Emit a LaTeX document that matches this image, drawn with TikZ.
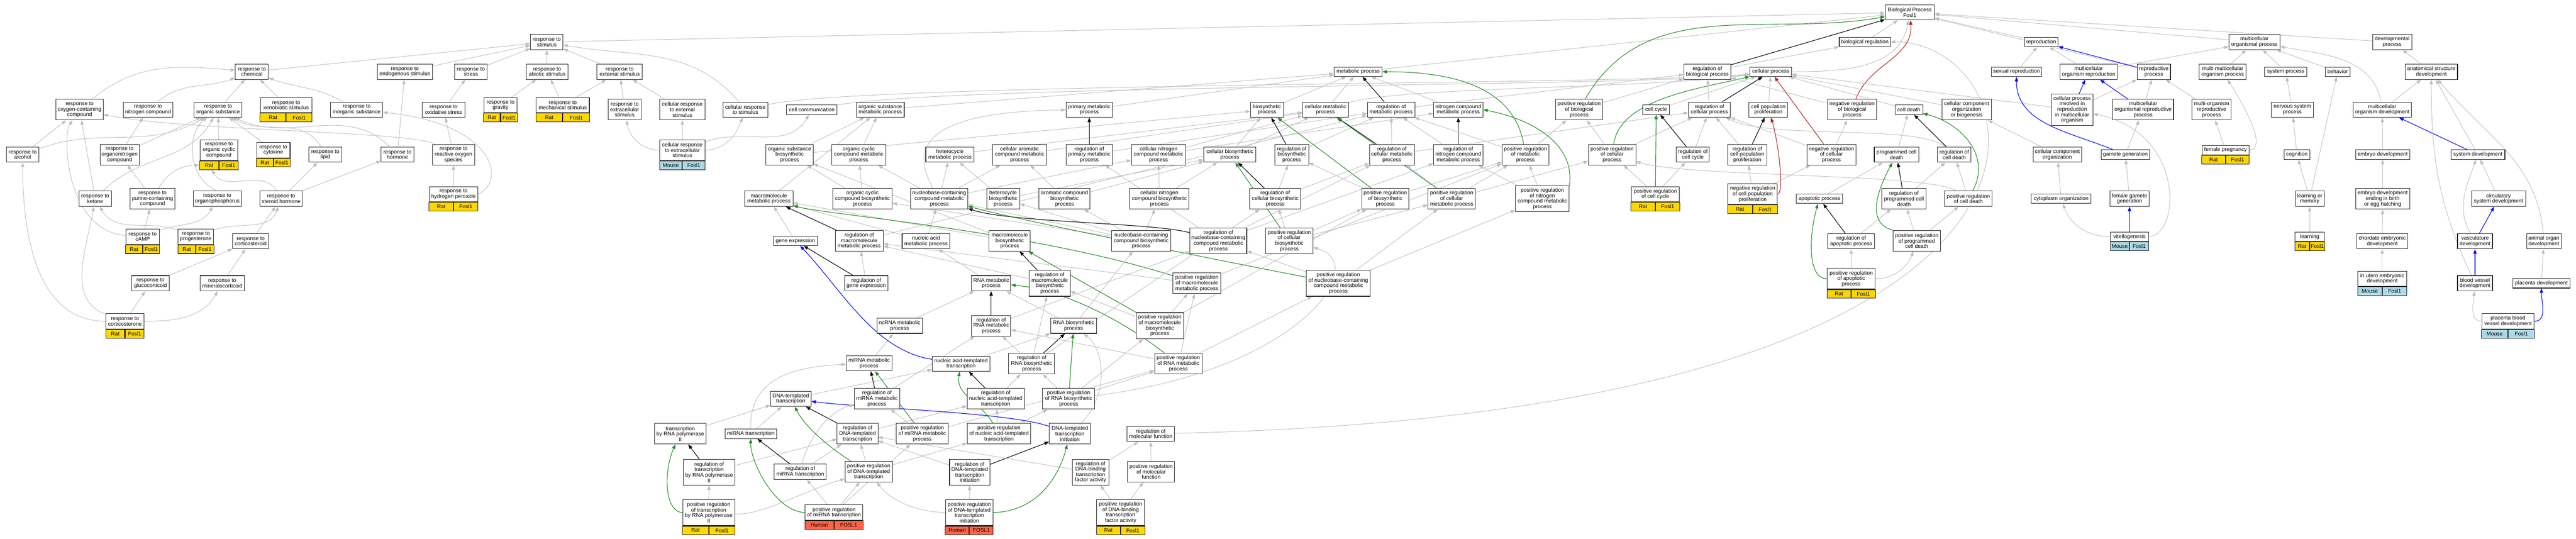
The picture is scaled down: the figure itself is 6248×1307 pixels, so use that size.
\documentclass[tikz,border=0pt]{standalone}
\usepackage{fontspec}
\setmainfont{Liberation Sans}
\usetikzlibrary{arrows.meta}
\pgfdeclarelayer{edges}
\pgfsetlayers{edges,main}
\definecolor{edgegray}{HTML}{BEBEBE}
\definecolor{posgreen}{HTML}{228B22}
\definecolor{negred}{HTML}{B22222}
\definecolor{partblue}{HTML}{0000FF}
\definecolor{ratfill}{HTML}{FFD700}
\definecolor{mousefill}{HTML}{ADD8E6}
\definecolor{humanfill}{HTML}{FF6347}

\begin{document}
\begin{tikzpicture}[x=1pt,y=-1pt,
  >={Triangle[length=11pt,width=8pt]},
  term/.style={draw=black!85, line width=1.3pt, fill=white, align=center, inner xsep=2pt, inner ysep=3pt, font=\fontsize{13}{13.3}\selectfont},
  h1/.style={term, minimum height=23pt},
  h2/.style={term, minimum height=37pt},
  h3/.style={term, minimum height=50pt},
  h4/.style={term, minimum height=63pt},
  h5/.style={term, minimum height=76pt},
  annot/.style={draw=black!85, line width=1.3pt, minimum height=21pt, inner sep=0pt, font=\fontsize{13}{13.3}\selectfont},
  isa/.style={->, draw=edgegray, line width=1.2pt},
  reg/.style={->, draw=black, line width=1.4pt},
  posreg/.style={->, draw=posgreen, line width=1.4pt},
  negreg/.style={->, draw=negred, line width=1.4pt},
  partof/.style={->, draw=partblue, line width=1.4pt}]

\useasboundingbox (0,0) rectangle (6248,1307);

\draw(4632,30) node[h2, minimum width=119pt] (bp) {Biological Process\\Fosl1};
\draw(4523,102) node[h1, minimum width=124pt] (bioreg) {biological regulation};
\draw(4951,102) node[h1, minimum width=81pt] (repro) {reproduction};
\draw(5468,102) node[h2, minimum width=123pt] (mproc) {multicellular\\organismal process};
\draw(5802,102) node[h2, minimum width=95pt] (devproc) {developmental\\process};
\draw(1326,102) node[h2, minimum width=79pt] (rstim) {response to\\stimulus};

\draw(611,174) node[h2, minimum width=80pt] (rchem) {response to\\chemical};
\draw(982,174) node[h2, minimum width=134pt] (rendo) {response to\\endogenous stimulus};
\draw(1142,174) node[h2, minimum width=78pt] (rstress) {response to\\stress};
\draw(1327,174) node[h2, minimum width=101pt] (rabio) {response to\\abiotic stimulus};
\draw(1503,174) node[h2, minimum width=110pt] (rext) {response to\\external stimulus};
\draw(3294,174) node[h1, minimum width=116pt] (meta) {metabolic process};
\draw(4141,174) node[h2, minimum width=114pt] (regbio) {regulation of\\biological process};
\draw(4295,174) node[h1, minimum width=101pt] (cproc) {cellular process};
\draw(4891,174) node[h1, minimum width=122pt] (sexrep) {sexual reproduction};
\draw(5066,174) node[h2, minimum width=139pt] (mrep) {multicellular\\organism reproduction};
\draw(5224,174) node[h2, minimum width=81pt] (repproc) {reproductive\\process};
\draw(5391,174) node[h2, minimum width=114pt] (mmproc) {multi-multicellular\\organism process};
\draw(5544,174) node[h1, minimum width=103pt] (sysproc) {system process};
\draw(5670,174) node[h1, minimum width=59pt] (behav) {behavior};
\draw(5897,174) node[h2, minimum width=127pt] (asdev) {anatomical structure\\development};

\draw(193,266) node[h3, minimum width=114pt] (roxy) {response to\\oxygen-containing\\compound};
\draw(359,266) node[h2, minimum width=120pt] (rnitro) {response to\\nitrogen compound};
\draw(529,266) node[h2, minimum width=116pt] (rorg) {response to\\organic substance};
\draw(694,255) node[h2, minimum width=125pt] (rxeno) {response to\\xenobiotic stimulus};
\draw(rxeno.south) node[annot, fill=ratfill, minimum width=62.5pt, anchor=north east] (rxeno-a) {Rat} node[annot, fill=ratfill, minimum width=62.5pt, anchor=north west] (rxeno-b) {Fosl1};
\draw(865,266) node[h2, minimum width=126pt] (rinorg) {response to\\inorganic substance};
\draw(1076,266) node[h2, minimum width=103pt] (roxstress) {response to\\oxidative stress};
\draw(1214,255) node[h2, minimum width=81pt] (rgrav) {response to\\gravity};
\draw(rgrav.south) node[annot, fill=ratfill, minimum width=40.5pt, anchor=north east] (rgrav-a) {Rat} node[annot, fill=ratfill, minimum width=40.5pt, anchor=north west] (rgrav-b) {Fosl1};
\draw(1365,255) node[h2, minimum width=129pt] (rmech) {response to\\mechanical stimulus};
\draw(rmech.south) node[annot, fill=ratfill, minimum width=64.5pt, anchor=north east] (rmech-a) {Rat} node[annot, fill=ratfill, minimum width=64.5pt, anchor=north west] (rmech-b) {Fosl1};
\draw(1515,266) node[h3, minimum width=80pt] (rextra) {response to\\extracellular\\stimulus};
\draw(1655,266) node[h3, minimum width=109pt] (crext) {cellular response\\to external\\stimulus};
\draw(1808,266) node[h2, minimum width=108pt] (crstim) {cellular response\\to stimulus};
\draw(1969,266) node[h1, minimum width=122pt] (ccomm) {cell communication};
\draw(2135,266) node[h2, minimum width=116pt] (osmeta) {organic substance\\metabolic process};
\draw(2642,266) node[h2, minimum width=112pt] (prim) {primary metabolic\\process};
\draw(3073,266) node[h2, minimum width=80pt] (bios) {biosynthetic\\process};
\draw(3215,266) node[h2, minimum width=111pt] (cmeta) {cellular metabolic\\process};
\draw(3374,266) node[h2, minimum width=115pt] (regmeta) {regulation of\\metabolic process};
\draw(3537,266) node[h2, minimum width=120pt] (nmeta) {nitrogen compound\\metabolic process};
\draw(3830,266) node[h3, minimum width=113pt] (posbio) {positive regulation\\of biological\\process};
\draw(4017,266) node[h1, minimum width=65pt] (ccycle) {cell cycle};
\draw(4146,266) node[h2, minimum width=101pt] (regcproc) {regulation of\\cellular process};
\draw(4289,266) node[h2, minimum width=94pt] (cpop) {cell population\\proliferation};
\draw(4492,266) node[h3, minimum width=119pt] (negbio) {negative regulation\\of biological\\process};
\draw(4630,266) node[h1, minimum width=67pt] (cdeath) {cell death};
\draw(4770,266) node[h3, minimum width=120pt] (ccob) {cellular component\\organization\\or biogenesis};
\draw(5026,266) node[h5, minimum width=101pt] (cprep) {cellular process\\involved in\\reproduction\\in multicellular\\organism};
\draw(5198,266) node[h3, minimum width=148pt] (mrepproc) {multicellular\\organismal reproductive\\process};
\draw(5364,266) node[h3, minimum width=95pt] (morep) {multi-organism\\reproductive\\process};
\draw(5560,266) node[h2, minimum width=103pt] (nsproc) {nervous system\\process};
\draw(5778,266) node[h2, minimum width=141pt] (mdev) {multicellular\\organism development};

\draw(55,375) node[h2, minimum width=79pt] (ralc) {response to\\alcohol};
\draw(290,375) node[h3, minimum width=95pt] (rorgn) {response to\\organonitrogen\\compound};
\draw(531,364) node[h3, minimum width=92pt] (rcyc) {response to\\organic cyclic\\compound};
\draw(rcyc.south) node[annot, fill=ratfill, minimum width=46pt, anchor=north east] (rcyc-a) {Rat} node[annot, fill=ratfill, minimum width=46pt, anchor=north west] (rcyc-b) {Fosl1};
\draw(663,364) node[h2, minimum width=81pt] (rcyto) {response to\\cytokine};
\draw(rcyto.south) node[annot, fill=ratfill, minimum width=40.5pt, anchor=north east] (rcyto-a) {Rat} node[annot, fill=ratfill, minimum width=40.5pt, anchor=north west] (rcyto-b) {Fosl1};
\draw(789,375) node[h2, minimum width=79pt] (rlip) {response to\\lipid};
\draw(964,375) node[h2, minimum width=79pt] (rhorm) {response to\\hormone};
\draw(1100,375) node[h3, minimum width=103pt] (rros) {response to\\reactive oxygen\\species};
\draw(1655,364) node[h3, minimum width=109pt] (crextra) {cellular response\\to extracellular\\stimulus};
\draw(crextra.south) node[annot, fill=mousefill, minimum width=54.5pt, anchor=north east] (crextra-a) {Mouse} node[annot, fill=mousefill, minimum width=54.5pt, anchor=north west] (crextra-b) {Fosl1};
\draw(1915,375) node[h3, minimum width=115pt] (osbios) {organic substance\\biosynthetic\\process};
\draw(2083,375) node[h3, minimum width=131pt] (occmeta) {organic cyclic\\compound metabolic\\process};
\draw(2304,375) node[h2, minimum width=117pt] (hetmeta) {heterocycle\\metabolic process};
\draw(2473,375) node[h3, minimum width=132pt] (arometa) {cellular aromatic\\compound metabolic\\process};
\draw(2642,375) node[h3, minimum width=112pt] (regprim) {regulation of\\primary metabolic\\process};
\draw(2810,375) node[h3, minimum width=131pt] (cnmeta) {cellular nitrogen\\compound metabolic\\process};
\draw(2983,375) node[h2, minimum width=126pt] (cbios) {cellular biosynthetic\\process};
\draw(3133,375) node[h3, minimum width=82pt] (regbios) {regulation of\\biosynthetic\\process};
\draw(3376,375) node[h3, minimum width=109pt] (regcmeta) {regulation of\\cellular metabolic\\process};
\draw(3537,375) node[h3, minimum width=120pt] (regnmeta) {regulation of\\nitrogen compound\\metabolic process};
\draw(3700,375) node[h3, minimum width=114pt] (posmeta) {positive regulation\\of metabolic\\process};
\draw(3910,375) node[h3, minimum width=115pt] (poscproc) {positive regulation\\of cellular\\process};
\draw(4106,375) node[h2, minimum width=80pt] (regccycle) {regulation of\\cell cycle};
\draw(4238,375) node[h3, minimum width=94pt] (regcpop) {regulation of\\cell population\\proliferation};
\draw(4442,375) node[h3, minimum width=119pt] (negcproc) {negative regulation\\of cellular\\process};
\draw(4600,375) node[h2, minimum width=108pt] (pcd) {programmed cell\\death};
\draw(4740,375) node[h2, minimum width=81pt] (regcd) {regulation of\\cell death};
\draw(4990,375) node[h2, minimum width=118pt] (cco) {cellular component\\organization};
\draw(5155,375) node[h1, minimum width=117pt] (gamgen) {gamete generation};
\draw(5398,364) node[h1, minimum width=114pt] (preg) {female pregnancy};
\draw(preg.south) node[annot, fill=ratfill, minimum width=57pt, anchor=north east] (preg-a) {Rat} node[annot, fill=ratfill, minimum width=57pt, anchor=north west] (preg-b) {Fosl1};
\draw(5571,375) node[h1, minimum width=62pt] (cogn) {cognition};
\draw(5779,375) node[h1, minimum width=131pt] (embdev) {embryo development};
\draw(6010,375) node[h1, minimum width=131pt] (sysdev) {system development};

\draw(231,482) node[h2, minimum width=79pt] (rket) {response to\\ketone};
\draw(370,482) node[h3, minimum width=109pt] (rpur) {response to\\purine-containing\\compound};
\draw(527,482) node[h2, minimum width=116pt] (rophos) {response to\\organophosphorus};
\draw(682,482) node[h2, minimum width=102pt] (rster) {response to\\steroid hormone};
\draw(1100,471) node[h2, minimum width=117pt] (rhp) {response to\\hydrogen peroxide};
\draw(rhp.south) node[annot, fill=ratfill, minimum width=58.5pt, anchor=north east] (rhp-a) {Rat} node[annot, fill=ratfill, minimum width=58.5pt, anchor=north west] (rhp-b) {Fosl1};
\draw(1865,482) node[h2, minimum width=117pt] (mmeta) {macromolecule\\metabolic process};
\draw(2092,482) node[h3, minimum width=144pt] (occbios) {organic cyclic\\compound biosynthetic\\process};
\draw(2278,482) node[h3, minimum width=139pt] (nbmeta) {nucleobase-containing\\compound metabolic\\process};
\draw(2433,482) node[h3, minimum width=80pt] (hetbios) {heterocycle\\biosynthetic\\process};
\draw(2582,482) node[h3, minimum width=124pt] (arobios) {aromatic compound\\biosynthetic\\process};
\draw(2812,482) node[h3, minimum width=144pt] (cnbios) {cellular nitrogen\\compound biosynthetic\\process};
\draw(3093,482) node[h3, minimum width=124pt] (regcbios) {regulation of\\cellular biosynthetic\\process};
\draw(3360,482) node[h3, minimum width=114pt] (posbios) {positive regulation\\of biosynthetic\\process};
\draw(3521,482) node[h3, minimum width=115pt] (poscmeta) {positive regulation\\of cellular\\metabolic process};
\draw(3741,482) node[h4, minimum width=130pt] (posnmeta) {positive regulation\\of nitrogen\\compound metabolic\\process};
\draw(4015,471) node[h2, minimum width=117pt] (posccycle) {positive regulation\\of cell cycle};
\draw(posccycle.south) node[annot, fill=ratfill, minimum width=58.5pt, anchor=north east] (posccycle-a) {Rat} node[annot, fill=ratfill, minimum width=58.5pt, anchor=north west] (posccycle-b) {Fosl1};
\draw(4251,471) node[h3, minimum width=120pt] (negcpop) {negative regulation\\of cell population\\proliferation};
\draw(negcpop.south) node[annot, fill=ratfill, minimum width=60pt, anchor=north east] (negcpop-a) {Rat} node[annot, fill=ratfill, minimum width=60pt, anchor=north west] (negcpop-b) {Fosl1};
\draw(4413,482) node[h1, minimum width=113pt] (apop) {apoptotic process};
\draw(4618,482) node[h3, minimum width=107pt] (regpcd) {regulation of\\programmed cell\\death};
\draw(4774,482) node[h2, minimum width=115pt] (poscd) {positive regulation\\of cell death};
\draw(4999,482) node[h1, minimum width=144pt] (cyto) {cytoplasm organization};
\draw(5165,482) node[h2, minimum width=95pt] (fgam) {female gamete\\generation};
\draw(5602,482) node[h2, minimum width=70pt] (lmem) {learning or\\memory};
\draw(5779,482) node[h3, minimum width=131pt] (embbirth) {embryo development\\ending in birth\\or egg hatching};
\draw(6060,482) node[h2, minimum width=131pt] (circ) {circulatory\\system development};

\draw(346,574) node[h2, minimum width=81pt] (rcamp) {response to\\cAMP};
\draw(rcamp.south) node[annot, fill=ratfill, minimum width=40.5pt, anchor=north east] (rcamp-a) {Rat} node[annot, fill=ratfill, minimum width=40.5pt, anchor=north west] (rcamp-b) {Fosl1};
\draw(475,574) node[h2, minimum width=86pt] (rprog) {response to\\progesterone};
\draw(rprog.south) node[annot, fill=ratfill, minimum width=43pt, anchor=north east] (rprog-a) {Rat} node[annot, fill=ratfill, minimum width=43pt, anchor=north west] (rprog-b) {Fosl1};
\draw(608,585) node[h2, minimum width=87pt] (rcort) {response to\\corticosteroid};
\draw(1929,584) node[h1, minimum width=106pt] (genex) {gene expression};
\draw(2084,584) node[h3, minimum width=116pt] (regmmeta) {regulation of\\macromolecule\\metabolic process};
\draw(2246,585) node[h2, minimum width=116pt] (nameta) {nucleic acid\\metabolic process};
\draw(2449,584) node[h3, minimum width=100pt] (mbios) {macromolecule\\biosynthetic\\process};
\draw(2768,584) node[h3, minimum width=144pt] (nbbios) {nucleobase-containing\\compound biosynthetic\\process};
\draw(2955,584) node[h4, minimum width=138pt] (regnbmeta) {regulation of\\nucleobase-containing\\compound metabolic\\process};
\draw(3127,584) node[h4, minimum width=115pt] (poscbios) {positive regulation\\of cellular\\biosynthetic\\process};
\draw(4490,585) node[h2, minimum width=113pt] (regapop) {regulation of\\apoptotic process};
\draw(4649,584) node[h3, minimum width=114pt] (pospcd) {positive regulation\\of programmed\\cell death};
\draw(5165,574) node[h1, minimum width=92pt] (vitel) {vitellogenesis};
\draw(vitel.south) node[annot, fill=mousefill, minimum width=46pt, anchor=north east] (vitel-a) {Mouse} node[annot, fill=mousefill, minimum width=46pt, anchor=north west] (vitel-b) {Fosl1};
\draw(5602,574) node[h1, minimum width=71pt] (learn) {learning};
\draw(learn.south) node[annot, fill=ratfill, minimum width=35.5pt, anchor=north east] (learn-a) {Rat} node[annot, fill=ratfill, minimum width=35.5pt, anchor=north west] (learn-b) {Fosl1};
\draw(5778,585) node[h2, minimum width=124pt] (chord) {chordate embryonic\\development};
\draw(6003,585) node[h2, minimum width=85pt] (vasc) {vasculature\\development};
\draw(6170,585) node[h2, minimum width=84pt] (organ) {animal organ\\development};

\draw(365,687) node[h2, minimum width=91pt] (rgluc) {response to\\glucocorticoid};
\draw(539,687) node[h2, minimum width=108pt] (rmin) {response to\\mineralocorticoid};
\draw(2101,687) node[h2, minimum width=105pt] (reggenex) {regulation of\\gene expression};
\draw(2404,687) node[h2, minimum width=95pt] (rnameta) {RNA metabolic\\process};
\draw(2546,687) node[h4, minimum width=99pt] (regmbios) {regulation of\\macromolecule\\biosynthetic\\process};
\draw(2903,687) node[h3, minimum width=116pt] (posmmeta) {positive regulation\\of macromolecule\\metabolic process};
\draw(3246,687) node[h4, minimum width=155pt] (posnbmeta) {positive regulation\\of nucleobase-containing\\compound metabolic\\process};
\draw(4490,676) node[h3, minimum width=116pt] (posapop) {positive regulation\\of apoptotic\\process};
\draw(posapop.south) node[annot, fill=ratfill, minimum width=58pt, anchor=north east] (posapop-a) {Rat} node[annot, fill=ratfill, minimum width=58pt, anchor=north west] (posapop-b) {Fosl1};
\draw(5778,676) node[h2, minimum width=118pt] (utero) {in utero embryonic\\development};
\draw(utero.south) node[annot, fill=mousefill, minimum width=59pt, anchor=north east] (utero-a) {Mouse} node[annot, fill=mousefill, minimum width=59pt, anchor=north west] (utero-b) {Fosl1};
\draw(6003,687) node[h2, minimum width=85pt] (bvdev) {blood vessel\\development};
\draw(6164,687) node[h1, minimum width=138pt] (pldev) {placenta development};

\draw(303,779) node[h2, minimum width=92pt] (rcster) {response to\\corticosterone};
\draw(rcster.south) node[annot, fill=ratfill, minimum width=46pt, anchor=north east] (rcster-a) {Rat} node[annot, fill=ratfill, minimum width=46pt, anchor=north west] (rcster-b) {Fosl1};
\draw(6083,779) node[h2, minimum width=127pt] (plbv) {placenta blood\\vessel development};
\draw(plbv.south) node[annot, fill=mousefill, minimum width=63.5pt, anchor=north east] (plbv-a) {Mouse} node[annot, fill=mousefill, minimum width=63.5pt, anchor=north west] (plbv-b) {Fosl1};
\draw(2182,790) node[h2, minimum width=110pt] (ncrna) {ncRNA metabolic\\process};
\draw(2404,790) node[h3, minimum width=95pt] (regrnameta) {regulation of\\RNA metabolic\\process};
\draw(2604,790) node[h2, minimum width=111pt] (rnabios) {RNA biosynthetic\\process};
\draw(2813,790) node[h4, minimum width=115pt] (posmbios) {positive regulation\\of macromolecule\\biosynthetic\\process};

\draw(2108,881) node[h2, minimum width=111pt] (mirmeta) {miRNA metabolic\\process};
\draw(2331,882) node[h2, minimum width=140pt] (natt) {nucleic acid-templated\\transcription};
\draw(2502,882) node[h3, minimum width=111pt] (regrnabios) {regulation of\\RNA biosynthetic\\process};
\draw(2858,882) node[h3, minimum width=115pt] (posrnameta) {positive regulation\\of RNA metabolic\\process};

\draw(1918,967) node[h2, minimum width=98pt] (dtt) {DNA-templated\\transcription};
\draw(2127,967) node[h3, minimum width=110pt] (regmirmeta) {regulation of\\miRNA metabolic\\process};
\draw(2415,967) node[h3, minimum width=139pt] (regnatt) {regulation of\\nucleic acid-templated\\transcription};
\draw(2592,967) node[h3, minimum width=126pt] (posrnabios) {positive regulation\\of RNA biosynthetic\\process};

\draw(1650,1052) node[h3, minimum width=125pt] (tpol) {transcription\\by RNA polymerase\\II};
\draw(1821,1052) node[h1, minimum width=125pt] (mirt) {miRNA transcription};
\draw(2080,1052) node[h3, minimum width=99pt] (regdtt) {regulation of\\DNA-templated\\transcription};
\draw(2237,1052) node[h3, minimum width=126pt] (posmirmeta) {positive regulation\\of miRNA metabolic\\process};
\draw(2423,1052) node[h3, minimum width=154pt] (posnatt) {positive regulation\\of nucleic acid-templated\\transcription};
\draw(2595,1052) node[h3, minimum width=100pt] (dtti) {DNA-templated\\transcription\\initiation};
\draw(2791,1052) node[h2, minimum width=115pt] (regmf) {regulation of\\molecular function};

\draw(1720,1145) node[h4, minimum width=125pt] (regtpol) {regulation of\\transcription\\by RNA polymerase\\II};
\draw(1941,1144) node[h2, minimum width=126pt] (regmirt) {regulation of\\miRNA transcription};
\draw(2107,1144) node[h3, minimum width=115pt] (posdtt) {positive regulation\\of DNA-templated\\transcription};
\draw(2352,1145) node[h4, minimum width=98pt] (regdtti) {regulation of\\DNA-templated\\transcription\\initiation};
\draw(2645,1145) node[h4, minimum width=89pt] (regdbtf) {regulation of\\DNA-binding\\transcription\\factor activity};
\draw(2792,1144) node[h3, minimum width=114pt] (posmf) {positive regulation\\of molecular\\function};

\draw(1719,1243) node[h4, minimum width=126pt] (postpol) {positive regulation\\of transcription\\by RNA polymerase\\II};
\draw(postpol.south) node[annot, fill=ratfill, minimum width=63pt, anchor=north east] (postpol-a) {Rat} node[annot, fill=ratfill, minimum width=63pt, anchor=north west] (postpol-b) {Fosl1};
\draw(2023,1243) node[h2, minimum width=140pt] (posmirt) {positive regulation\\of miRNA transcription};
\draw(posmirt.south) node[annot, fill=humanfill, minimum width=70pt, anchor=north east] (posmirt-a) {Human} node[annot, fill=humanfill, minimum width=70pt, anchor=north west] (posmirt-b) {FOSL1};
\draw(2351,1243) node[h4, minimum width=115pt] (posdtti) {positive regulation\\of DNA-templated\\transcription\\initiation};
\draw(posdtti.south) node[annot, fill=humanfill, minimum width=57.5pt, anchor=north east] (posdtti-a) {Human} node[annot, fill=humanfill, minimum width=57.5pt, anchor=north west] (posdtti-b) {FOSL1};
\draw(2718,1243) node[h4, minimum width=116pt] (posdbtf) {positive regulation\\of DNA-binding\\transcription\\factor activity};
\draw(posdbtf.south) node[annot, fill=ratfill, minimum width=58pt, anchor=north east] (posdbtf-a) {Rat} node[annot, fill=ratfill, minimum width=58pt, anchor=north west] (posdbtf-b) {Fosl1};

\begin{pgfonlayer}{edges}
\draw[isa] (rchem) -- (rstim);
\draw[isa] (rendo) -- (rstim);
\draw[isa] (rstress) -- (rstim);
\draw[isa] (rabio) -- (rstim);
\draw[isa] (rext) -- (rstim);
\draw[isa] (crstim) to[out=130,in=-10] (rstim);
\draw[isa] (rstim) -- (bp);
\draw[isa] (roxy) to[out=40,in=175] (rchem);
\draw[isa] (rnitro) to[out=40,in=200] (rchem);
\draw[isa] (rorg) -- (rchem);
\draw[isa] (rxeno) -- (rchem);
\draw[isa] (rinorg) to[out=150,in=-20] (rchem);
\draw[isa] (roxstress) -- (rstress);
\draw[isa] (rgrav) -- (rabio);
\draw[isa] (rmech) -- (rabio);
\draw[isa] (rmech) -- (rext);
\draw[isa] (rextra) -- (rext);
\draw[isa] (crext) -- (rext);
\draw[isa] (crextra) to[out=180,in=-80] (rextra);
\draw[isa] (crextra) -- (crext);
\draw[isa] (crextra) to[out=0,in=-110] (crstim);
\draw[isa] (crextra) to[out=20,in=-120] (ccomm);
\draw[isa] (ralc) -- (roxy);
\draw[isa] (ralc) to[out=20,in=-150] (rorg);
\draw[isa] (rorgn) -- (rnitro);
\draw[isa] (rorgn) -- (rorg);
\draw[isa] (rcyc) -- (rorg);
\draw[isa] (rcyto) -- (rorg);
\draw[isa] (rlip) to[out=120,in=-30] (rorg);
\draw[isa] (rhorm) to[out=135,in=-25] (rorg);
\draw[isa] (rhorm) -- (rendo);
\draw[isa] (rros) -- (roxstress);
\draw[isa] (rros) .. controls (1000,318) and (450,318) .. (roxy);
\draw[isa] (rhp) -- (rros);
\draw[isa] (rhp.east) .. controls (1230,440) and (1200,300) .. (rinorg);
\draw[isa] (rket) -- (roxy);
\draw[isa] (rket) to[out=45,in=-120] (rorg);
\draw[isa] (rpur) -- (rorgn);
\draw[isa] (rpur) to[out=60,in=180] (rcyc-a);
\draw[isa] (rophos.north) .. controls (450,430) and (455,320) .. (rorg);
\draw[isa] (rster) to[out=120,in=-60] (rcyc-a);
\draw[isa] (rster) -- (rlip);
\draw[isa] (rster) -- (rhorm);
\draw[isa] (rcamp) -- (rpur);
\draw[isa] (rcamp) to[out=20,in=-120] (rophos);
\draw[isa] (rcamp) .. controls (160,560) and (150,330) .. (roxy);
\draw[isa] (rprog) to[out=160,in=-60] (rket);
\draw[isa] (rprog) to[out=20,in=-110] (rster);
\draw[isa] (rcort) -- (rster);
\draw[isa] (rgluc) -- (rcort);
\draw[isa] (rmin) -- (rcort);
\draw[isa] (rcster) -- (rgluc);
\draw[isa] (rcster) to[out=0,in=-120] (rmin);
\draw[isa] (rcster) to[out=180,in=-90] (ralc);
\draw[isa] (rcster) to[out=160,in=-100] (rket);
\draw[isa] (ccomm) .. controls (2300,205) and (4000,210) .. (cproc);
\draw[isa] (crstim) .. controls (2100,200) and (4000,205) .. (cproc);

\draw[isa] (meta) -- (bp);
\draw[isa] (osmeta) -- (meta);
\draw[isa] (prim) -- (meta);
\draw[isa] (bios) -- (meta);
\draw[isa] (cmeta) -- (meta);
\draw[isa] (nmeta) -- (meta);
\draw[isa] (cmeta) .. controls (3400,210) and (4000,215) .. (cproc);
\draw[reg] (regmeta) -- (meta);
\draw[isa] (regmeta) -- (regbio);
\draw[isa] (osbios) -- (osmeta);
\draw[isa] (osbios) -- (bios);
\draw[isa] (occmeta) -- (osmeta);
\draw[isa] (hetmeta) -- (cmeta);
\draw[isa] (arometa) -- (cmeta);
\draw[reg] (regprim) -- (prim);
\draw[isa] (regprim) -- (regmeta);
\draw[isa] (cnmeta) -- (cmeta);
\draw[isa] (cnmeta) -- (nmeta);
\draw[isa] (cbios) -- (bios);
\draw[isa] (cbios) -- (cmeta);
\draw[reg] (regbios) -- (bios);
\draw[isa] (regbios) -- (regmeta);
\draw[reg] (regcmeta) -- (cmeta);
\draw[isa] (regcmeta) -- (regmeta);
\draw[isa] (regcmeta) -- (regcproc);
\draw[reg] (regnmeta) -- (nmeta);
\draw[isa] (regnmeta) -- (regmeta);
\draw[posreg] (posmeta) to[out=100,in=0] (meta);
\draw[isa] (posmeta) -- (regmeta);
\draw[isa] (posmeta) -- (posbio);
\draw[posreg] (poscproc) .. controls (3930,240) and (4120,215) .. (cproc);
\draw[isa] (poscproc) -- (regcproc);
\draw[isa] (poscproc) -- (posbio);
\draw[reg] (regccycle) -- (ccycle);
\draw[isa] (regccycle) -- (regcproc);
\draw[isa] (mmeta) -- (osmeta);
\draw[isa] (occbios) -- (occmeta);
\draw[isa] (occbios) -- (osbios);
\draw[isa] (nbmeta) -- (hetmeta);
\draw[isa] (nbmeta) -- (arometa);
\draw[isa] (nbmeta) -- (occmeta);
\draw[isa] (nbmeta) -- (cnmeta);
\draw[isa] (nbmeta) .. controls (2190,330) and (2300,270) .. (prim);
\draw[isa] (hetbios) -- (hetmeta);
\draw[isa] (hetbios) -- (cbios);
\draw[isa] (arobios) -- (arometa);
\draw[isa] (arobios) -- (cbios);
\draw[isa] (cnbios) -- (cnmeta);
\draw[isa] (cnbios) -- (cbios);
\draw[reg] (regcbios) -- (cbios);
\draw[isa] (regcbios) -- (regbios);
\draw[isa] (regcbios) -- (regcmeta);
\draw[posreg] (posbios) -- (bios);
\draw[isa] (posbios) -- (regbios);
\draw[isa] (posbios) -- (posmeta);
\draw[posreg] (poscmeta) -- (cmeta);
\draw[isa] (poscmeta) -- (regcmeta);
\draw[isa] (poscmeta) -- (posmeta);
\draw[isa] (poscmeta) -- (poscproc);
\draw[posreg] (posnmeta.north east) .. controls (3820,350) and (3720,290) .. (nmeta.east);
\draw[isa] (posnmeta) -- (regnmeta);
\draw[isa] (posnmeta) -- (posmeta);
\draw[posreg] (posccycle) -- (ccycle);
\draw[isa] (posccycle) -- (regccycle);
\draw[isa] (posccycle) -- (poscproc);
\draw[isa] (genex) -- (mmeta);
\draw[reg] (regmmeta) -- (mmeta);
\draw[isa] (regmmeta) -- (regmeta);
\draw[isa] (nameta) -- (nbmeta);
\draw[isa] (nameta) -- (mmeta);
\draw[isa] (mbios) -- (mmeta);
\draw[isa] (mbios) -- (osbios);
\draw[isa] (nbbios) -- (nbmeta);
\draw[isa] (nbbios) -- (hetbios);
\draw[isa] (nbbios) -- (arobios);
\draw[isa] (nbbios) -- (cnbios);
\draw[isa] (nbbios) -- (occbios);
\draw[reg] (regnbmeta) .. controls (2800,540) and (2450,540) .. (nbmeta);
\draw[isa] (regnbmeta) -- (regprim);
\draw[isa] (regnbmeta) -- (regcmeta);
\draw[isa] (regnbmeta) -- (regnmeta);
\draw[posreg] (poscbios) -- (cbios);
\draw[isa] (poscbios) -- (regcbios);
\draw[isa] (poscbios) -- (posbios);
\draw[isa] (poscbios) -- (poscmeta);
\draw[reg] (reggenex) -- (genex);
\draw[isa] (reggenex) -- (regmmeta);
\draw[isa] (rnameta) -- (nameta);
\draw[reg] (regmbios) -- (mbios);
\draw[isa] (regmbios) -- (regmmeta);
\draw[posreg] (posmmeta) .. controls (2500,560) and (2000,520) .. (mmeta);
\draw[isa] (posmmeta) -- (regmmeta);
\draw[isa] (posmmeta) -- (posmeta);
\draw[posreg] (posnbmeta) .. controls (3000,640) and (2500,540) .. (nbmeta);
\draw[isa] (posnbmeta) -- (regnbmeta);
\draw[isa] (posnbmeta) -- (poscmeta);
\draw[isa] (posnbmeta) -- (posnmeta);
\draw[isa] (ncrna) -- (rnameta);
\draw[reg] (regrnameta) -- (rnameta);
\draw[isa] (regrnameta) -- (regnbmeta);
\draw[isa] (rnabios) -- (rnameta);
\draw[isa] (rnabios) -- (nbbios);
\draw[isa] (posmbios) -- (regmbios);
\draw[isa] (posmbios) -- (posmmeta);
\draw[posreg] (posmbios) -- (mbios);
\draw[isa] (posmbios) -- (posbios);
\draw[isa] (mirmeta) -- (ncrna);
\draw[isa] (natt) -- (rnabios);
\draw[partof] (natt) .. controls (2120,850) and (2040,700) .. (genex);
\draw[reg] (regrnabios) -- (rnabios);
\draw[isa] (regrnabios) -- (regrnameta);
\draw[isa] (regrnabios) -- (regmbios);
\draw[isa] (regrnabios) -- (regcbios);
\draw[posreg] (posrnameta) .. controls (2700,760) and (2560,700) .. (rnameta);
\draw[isa] (posrnameta) -- (regrnameta);
\draw[isa] (posrnameta) -- (posmmeta);
\draw[isa] (posrnameta) -- (posnbmeta);
\draw[isa] (dtt) -- (natt);
\draw[reg] (regmirmeta) -- (mirmeta);
\draw[isa] (regmirmeta) -- (regrnameta);
\draw[reg] (regnatt) -- (natt);
\draw[isa] (regnatt) -- (regrnabios);
\draw[posreg] (posrnabios) -- (rnabios);
\draw[isa] (posrnabios) -- (regrnabios);
\draw[isa] (posrnabios) -- (posrnameta);
\draw[isa] (posrnabios) -- (posmbios);
\draw[isa] (posrnabios) .. controls (3150,900) and (3330,640) .. (poscbios);
\draw[isa] (tpol) -- (dtt);
\draw[isa] (mirt) -- (dtt);
\draw[isa] (mirt) .. controls (1818,930) and (1900,890) .. (mirmeta);
\draw[reg] (regdtt) -- (dtt);
\draw[isa] (regdtt) -- (regnatt);
\draw[posreg] (posmirmeta) -- (mirmeta);
\draw[isa] (posmirmeta) -- (regmirmeta);
\draw[isa] (posmirmeta) -- (posrnameta);
\draw[posreg] (posnatt) to[out=120,in=-100] (natt);
\draw[isa] (posnatt) -- (regnatt);
\draw[isa] (posnatt) -- (posrnabios);
\draw[partof] (dtti) .. controls (2450,1000) and (2100,990) .. (dtt);
\draw[isa] (dtti) .. controls (2690,960) and (2680,850) .. (rnabios);
\draw[isa] (regmf) .. controls (5200,1000) and (4950,100) .. (bioreg);
\draw[reg] (regtpol) -- (tpol);
\draw[isa] (regtpol) -- (regdtt);
\draw[reg] (regmirt) -- (mirt);
\draw[isa] (regmirt) -- (regdtt);
\draw[isa] (regmirt) .. controls (1955,1080) and (2000,1000) .. (regmirmeta);
\draw[isa] (posdtt) -- (regdtt);
\draw[isa] (posdtt) -- (posnatt);
\draw[posreg] (posdtt) .. controls (2050,1110) and (1960,1050) .. (dtt);
\draw[reg] (regdtti) -- (dtti);
\draw[isa] (regdtti) -- (regdtt);
\draw[isa] (regdbtf) -- (regmf);
\draw[isa] (regdbtf) -- (regdtt);
\draw[isa] (posmf) -- (regmf);
\draw[posreg] (postpol.west) .. controls (1610,1240) and (1610,1140) .. (tpol);
\draw[isa] (postpol) -- (regtpol);
\draw[isa] (postpol) .. controls (1850,1250) and (1950,1190) .. (posdtt);
\draw[posreg] (posmirt.west) .. controls (1880,1240) and (1820,1120) .. (mirt);
\draw[isa] (posmirt) -- (regmirt);
\draw[isa] (posmirt) -- (posdtt);
\draw[isa] (posmirt) -- (posmirmeta);
\draw[posreg] (posdtti.east) .. controls (2520,1240) and (2570,1150) .. (dtti);
\draw[isa] (posdtti) -- (regdtti);
\draw[isa] (posdtti.west) .. controls (2200,1240) and (2150,1200) .. (posdtt);
\draw[isa] (posdbtf) -- (regdbtf);
\draw[isa] (posdbtf) -- (posmf);

\draw[isa] (bioreg) -- (bp);
\draw[reg] (regbio) -- (bp);
\draw[isa] (regbio) -- (bioreg);
\draw[posreg] (posbio) to[out=60,in=190] (bp);
\draw[isa] (posbio) -- (regbio);
\draw[negreg] (negbio) to[out=70,in=-85] (bp);
\draw[isa] (negbio) -- (regbio);
\draw[isa] (cproc) to[out=0,in=-100] (bp);
\draw[isa] (repro) -- (bp);
\draw[isa] (mproc) -- (bp);
\draw[isa] (devproc) -- (bp);
\draw[isa] (repproc) -- (bp);
\draw[isa] (regcproc) -- (regbio);
\draw[reg] (regcproc) -- (cproc);
\draw[isa] (ccycle) -- (cproc);
\draw[isa] (cpop) -- (cproc);
\draw[isa] (cdeath) -- (cproc);
\draw[isa] (ccob) -- (cproc);
\draw[isa] (cprep) -- (cproc);
\draw[partof] (cprep) -- (mrep);
\draw[isa] (cprep) -- (repproc);
\draw[partof] (mrepproc) -- (mrep);
\draw[isa] (mrepproc) -- (repproc);
\draw[isa] (sexrep) -- (repro);
\draw[isa] (mrep) -- (repro);
\draw[isa] (mrep) -- (mproc);
\draw[partof] (repproc) -- (repro);
\draw[isa] (mmproc) -- (mproc);
\draw[isa] (sysproc) -- (mproc);
\draw[isa] (behav) -- (mproc);
\draw[isa] (mdev) to[out=100,in=-10] (mproc);
\draw[isa] (mdev) -- (asdev);
\draw[isa] (asdev) -- (devproc);
\draw[isa] (morep) -- (repproc);
\draw[isa] (nsproc) -- (sysproc);
\draw[isa] (preg) -- (morep);
\draw[isa] (preg.east) .. controls (5490,360) and (5470,300) .. (mmproc);
\draw[isa] (cogn) -- (nsproc);
\draw[isa] (lmem) -- (cogn);
\draw[isa] (lmem) -- (behav);
\draw[isa] (learn) -- (lmem);
\draw[isa] (embdev) -- (mdev);
\draw[partof] (sysdev) -- (mdev);
\draw[isa] (sysdev) -- (asdev);
\draw[isa] (embbirth) -- (embdev);
\draw[isa] (chord) -- (embbirth);
\draw[isa] (utero) -- (chord);
\draw[isa] (circ) -- (sysdev);
\draw[partof] (vasc) -- (circ);
\draw[isa] (vasc) to[out=120,in=-110] (sysdev);
\draw[isa] (organ) to[out=95,in=-50] (asdev);
\draw[partof] (bvdev) -- (vasc);
\draw[isa] (bvdev) to[out=115,in=-90] (asdev);
\draw[isa] (pldev) -- (organ);
\draw[isa] (plbv.west) to[out=180,in=-95] (bvdev);
\draw[partof] (plbv.east) to[out=0,in=-90] (pldev);

\draw[isa] (pcd) -- (cdeath);
\draw[reg] (regcd) -- (cdeath);
\draw[isa] (regcd) .. controls (4650,300) and (4300,340) .. (regcproc);
\draw[isa] (apop) -- (pcd);
\draw[reg] (regpcd) -- (pcd);
\draw[isa] (regpcd) -- (regcd);
\draw[posreg] (poscd) .. controls (4830,380) and (4760,300) .. (cdeath);
\draw[isa] (poscd) -- (regcd);
\draw[isa] (poscd) .. controls (4680,420) and (4100,430) .. (poscproc);
\draw[reg] (regapop) -- (apop);
\draw[isa] (regapop) -- (regpcd);
\draw[posreg] (pospcd.north west) .. controls (4520,540) and (4560,450) .. (pcd);
\draw[isa] (pospcd) -- (regpcd);
\draw[isa] (pospcd) -- (poscd);
\draw[posreg] (posapop.west) .. controls (4380,676) and (4390,560) .. (apop);
\draw[isa] (posapop) -- (regapop);
\draw[isa] (posapop.east) .. controls (4600,676) and (4630,640) .. (pospcd);
\draw[reg] (regcpop) -- (cpop);
\draw[isa] (regcpop) -- (regcproc);
\draw[isa] (negcproc) -- (regcproc);
\draw[isa] (negcproc) -- (negbio);
\draw[negreg] (negcproc) -- (cproc);
\draw[negreg] (negcpop.east) .. controls (4330,465) and (4310,330) .. (cpop);
\draw[isa] (negcpop) -- (regcpop);
\draw[isa] (negcpop) -- (negcproc);
\draw[isa] (cco) -- (ccob);
\draw[isa] (cyto) -- (cco);
\draw[partof] (gamgen) .. controls (5020,320) and (4890,300) .. (sexrep);
\draw[isa] (gamgen) -- (mrepproc);
\draw[isa] (fgam) -- (gamgen);
\draw[partof] (vitel) -- (fgam);
\draw[isa] (vitel.west) to[out=180,in=-70] (cyto);
\draw[isa] (vitel.east) .. controls (5290,570) and (5300,320) .. (cprep);
\end{pgfonlayer}

\end{tikzpicture}
\end{document}
